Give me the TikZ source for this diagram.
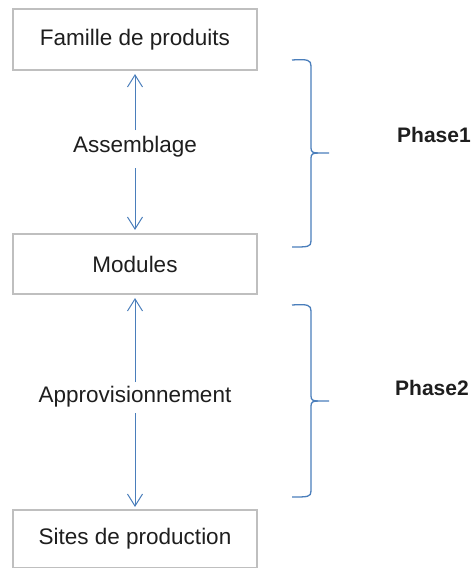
\documentclass[tikz,border=0pt]{standalone}
\usepackage{fontspec}
\setmainfont{Liberation Sans}
\usetikzlibrary{arrows.meta}
\definecolor{boxgray}{HTML}{BFBFBF}
\definecolor{arrblue}{HTML}{4A7EBB}
\definecolor{txt}{HTML}{1E1E1E}
\tikzset{
  box/.style={draw=boxgray, line width=1.1pt, minimum width=244pt, inner sep=0pt,
    text=txt, font=\fontsize{22.5}{27}\selectfont},
  lab/.style={text=txt, font=\fontsize{22.5}{27}\selectfont, inner sep=0pt},
  phase/.style={text=txt, font=\fontsize{21}{25}\selectfont\bfseries, inner sep=0pt, anchor=west},
  arr/.style={draw=arrblue, line width=1pt, -{Straight Barb[length=12pt,width=15pt,line width=1pt]}},
  brace/.style={draw=arrblue, line width=1.3pt},
}
\begin{document}
\begin{tikzpicture}[x=1pt,y=-1pt]
\useasboundingbox (0,0) rectangle (473,568);
\node[box, minimum height=61pt] (b1) at (135,39.5) {Famille de produits};
\node[box, minimum height=60pt] (b2) at (135,264) {Modules};
\node[box, minimum height=58pt] (b3) at (135,539) {Sites de production};
\node[lab] (l1) at (135,147) {Assemblage};
\node[lab] (l2) at (135,397) {Approvisionnement};
\node[phase] (p1) at (397,135) {Phase1};
\node[phase] (p2) at (395,388) {Phase2};
\coordinate (a1) at (135,130);
\coordinate (a2) at (135,168);
\coordinate (a3) at (135,382);
\coordinate (a4) at (135,413);
\draw[arr, shorten >=3.5pt] (a1) -- (b1.south);
\draw[arr, shorten >=3.5pt] (a2) -- (b2.north);
\draw[arr, shorten >=3.5pt] (a3) -- (b2.south);
\draw[arr, shorten >=2.5pt] (a4) -- (b3.north);
% braces
\draw[brace] (292,60) .. controls (308,59) and (311,60) .. (311,66) -- (311,148)
  .. controls (311,152) and (313,153) .. (318,153) -- (329,153);
\draw[brace] (318,153) .. controls (313,153) and (311,154) .. (311,158) -- (311,241)
  .. controls (311,247) and (308,247) .. (292,247);
\draw[brace] (292,305) .. controls (308,304) and (311,305) .. (311,311) -- (311,396)
  .. controls (311,400) and (313,401) .. (318,401) -- (329,401);
\draw[brace] (318,401) .. controls (313,401) and (311,402) .. (311,406) -- (311,491)
  .. controls (311,497) and (308,497) .. (292,497);
\end{tikzpicture}
\end{document}
